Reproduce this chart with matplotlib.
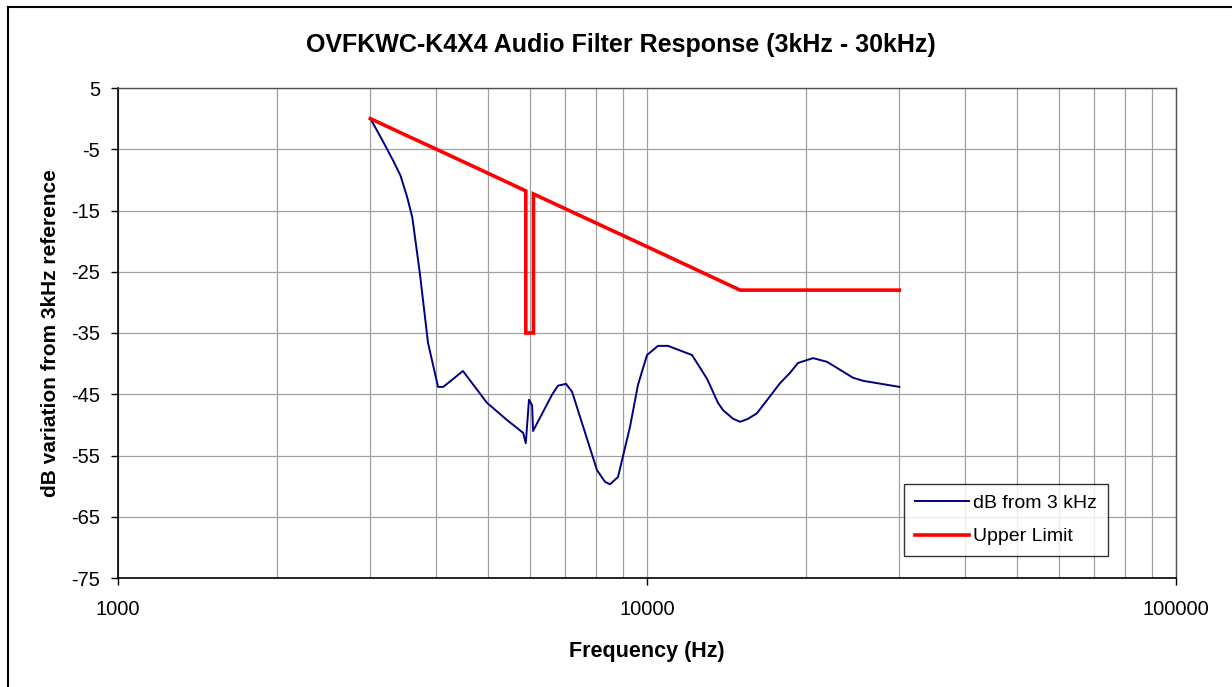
import matplotlib
matplotlib.use("Agg")
import matplotlib.pyplot as plt
from matplotlib.ticker import FixedLocator, NullFormatter, FixedFormatter
from matplotlib.lines import Line2D

plt.rcParams['font.family'] = ['Liberation Sans', 'DejaVu Sans']
plt.rcParams['axes.unicode_minus'] = False

# Measured response (dB from 3 kHz)
freq_resp = [3000, 3150, 3310, 3420, 3520, 3600, 3720, 3855, 4027, 4120, 4488, 4983, 5436, 5832,
             5900, 5983, 6065, 6090, 6612, 6787, 7029, 7217, 8045, 8330, 8512, 8815,
             9288, 9613, 10000, 10490, 10958, 12165, 12990, 13620, 13925, 14543, 15000,
             15530, 16140, 17840, 18640, 19290, 20600, 21890, 24510, 25600, 30000]
db_resp = [0.0, -3.3, -6.8, -9.3, -12.8, -16.1, -25.2, -36.6, -43.8, -43.8, -41.2, -46.4, -49.2, -51.3,
           -53.0, -45.9, -46.8, -51.0, -45.1, -43.6, -43.3, -44.6, -57.4, -59.3, -59.7, -58.5,
           -50.3, -43.5, -38.6, -37.1, -37.1, -38.6, -42.5, -46.4, -47.6, -49.0, -49.5,
           -49.0, -48.1, -43.2, -41.5, -39.9, -39.1, -39.7, -42.3, -42.8, -43.8]

# Upper limit mask
freq_limit = [3000, 3500, 4000, 5000, 5900, 5900, 6100, 6100, 7000, 10000, 15000, 30000]
db_limit = [0.0, -2.7, -5.0, -8.9, -11.8, -35.0, -35.0, -12.3, -14.7, -20.9, -28.0, -28.0]

x_ticks = [1000, 10000, 100000]
x_tick_labels = ['1000', '10000', '100000']
y_ticks = [5, -5, -15, -25, -35, -45, -55, -65, -75]

W, H = 1232, 687
fig = plt.figure(figsize=(W / 100, H / 100), dpi=100)
ax = fig.add_axes([118 / W, 1 - 578 / H, (1176 - 118) / W, (578 - 88) / H])

ax.set_xscale('log')
ax.set_xlim(1000, 100000)
ax.set_ylim(-75, 5)

ax.plot(freq_resp, db_resp, color='#000080', lw=1.4, label='dB from 3 kHz', zorder=3)
ax.plot(freq_limit, db_limit, color='#FF0000', lw=2.6, label='Upper Limit', zorder=4,
        solid_joinstyle='miter')

ax.xaxis.set_major_locator(FixedLocator(x_ticks))
ax.xaxis.set_major_formatter(FixedFormatter(x_tick_labels))
minor = [m * d for d in (1000, 10000) for m in range(2, 10)]
ax.xaxis.set_minor_locator(FixedLocator(minor))
ax.xaxis.set_minor_formatter(NullFormatter())
ax.set_yticks(y_ticks)

ax.grid(True, which='both', axis='x', color='#a0a0a0', lw=0.9)
ax.grid(True, which='major', axis='y', color='#a0a0a0', lw=0.9)
ax.set_axisbelow(True)

ax.tick_params(axis='x', which='minor', length=0)
ax.tick_params(axis='both', which='major', direction='out', length=5, width=1,
               labelsize=14.5, colors='black')
ax.tick_params(axis='x', pad=11)
ax.tick_params(axis='y', pad=8)

for s in ('left', 'bottom'):
    ax.spines[s].set_color('black')
    ax.spines[s].set_linewidth(1.2)
for s in ('top', 'right'):
    ax.spines[s].set_color('#505050')
    ax.spines[s].set_linewidth(1.0)

ax.set_xlabel('Frequency (Hz)', fontsize=15.5, fontweight='bold', labelpad=16)
ax.set_ylabel('dB variation from 3kHz reference', fontsize=15, fontweight='bold', labelpad=8)

fig.text(621 / W, 1 - 45 / H, 'OVFKWC-K4X4 Audio Filter Response (3kHz - 30kHz)',
         ha='center', va='center', fontsize=18, fontweight='bold')

leg = ax.legend(loc='lower left', bbox_to_anchor=((904 - 118) / (1176 - 118), (578 - 556) / (578 - 88)),
                frameon=True, fancybox=False, fontsize=14, handlelength=2.8,
                borderpad=0.55, labelspacing=0.8, handletextpad=0.2, borderaxespad=0)
leg.get_frame().set_edgecolor('black')
leg.get_frame().set_linewidth(1.0)

# outer chart frame
fig.add_artist(Line2D([8 / W, 8 / W], [0, 1 - 7 / H], color='black', lw=1.5, transform=fig.transFigure))
fig.add_artist(Line2D([8 / W, 1], [1 - 7 / H, 1 - 7 / H], color='black', lw=1.5, transform=fig.transFigure))

fig.savefig('out.png', dpi=100, facecolor='white')
